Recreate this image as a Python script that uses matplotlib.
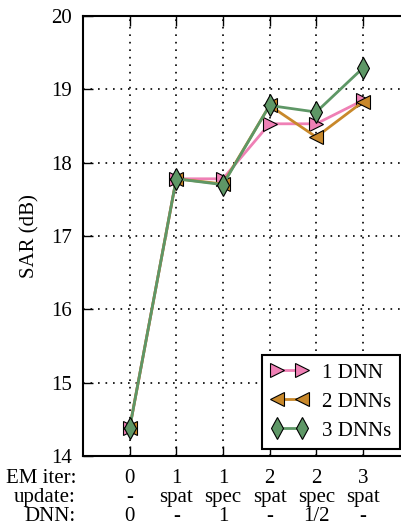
import numpy as np
import matplotlib.pyplot as plt

plt.rcParams['font.family'] = ['Liberation Serif', 'DejaVu Serif']
plt.rcParams['font.size'] = 15

steps = [0, 1, 2, 3, 4, 5]
em_iter = ['0', '1', '1', '2', '2', '3']
update = ['-', 'spat', 'spec', 'spat', 'spec', 'spat']
dnn = ['0', '-', '1', '-', '1/2', '-']

sar_1dnn = [14.38, 17.78, 17.78, 18.53, 18.53, 18.85]
sar_2dnn = [14.38, 17.78, 17.71, 18.78, 18.35, 18.83]
sar_3dnn = [14.38, 17.78, 17.70, 18.78, 18.69, 19.29]

fig = plt.figure(figsize=(4.01, 5.28), dpi=100)
ax = fig.add_axes([83 / 401, 1 - 456 / 528, 326.5 / 401, 440 / 528])

ax.plot(steps, sar_1dnn, color='#ef80b5', lw=2, marker='>', ms=10,
        mec='black', mew=0.8, label='1 DNN')
ax.plot(steps, sar_2dnn, color='#c8882a', lw=2, marker='<', ms=10,
        mec='black', mew=0.8, label='2 DNNs')
ax.plot(steps, sar_3dnn, color='#5e9766', lw=2, marker='d', ms=11,
        mec='black', mew=0.8, label='3 DNNs')

ax.set_xlim(-1, 6)
ax.set_ylim(14, 20)
ax.set_yticks(range(14, 21))
ax.set_xticks(steps)
ax.set_xticklabels([f'{a}\n{b}\n{c}' for a, b, c in zip(em_iter, update, dnn)],
                   linespacing=1.0)
ax.set_ylabel('SAR (dB)', labelpad=8)
ax.grid(True, color='black', ls=(0, (1, 3.5)), lw=1.2)
ax.tick_params(direction='in', length=7, width=1, top=True, right=False)
ax.tick_params(axis='x', pad=9.5)
ax.tick_params(axis='y', pad=8)
for s in ax.spines.values():
    s.set_linewidth(1.5)

fig.text(76 / 401, 1 - 469 / 528, 'EM iter:\nupdate:\nDNN:', ha='right', va='top',
         linespacing=1.0, fontsize=15)

leg = ax.legend(loc='lower right', bbox_to_anchor=(400 / 401, 1 - 449 / 528),
                bbox_transform=fig.transFigure, borderaxespad=0, numpoints=2,
                fancybox=False, edgecolor='black', framealpha=1, handlelength=1.8,
                labelspacing=0.45, borderpad=0.4, handletextpad=0.7)
leg.get_frame().set_linewidth(1.5)

fig.savefig('out.png', dpi=100)
